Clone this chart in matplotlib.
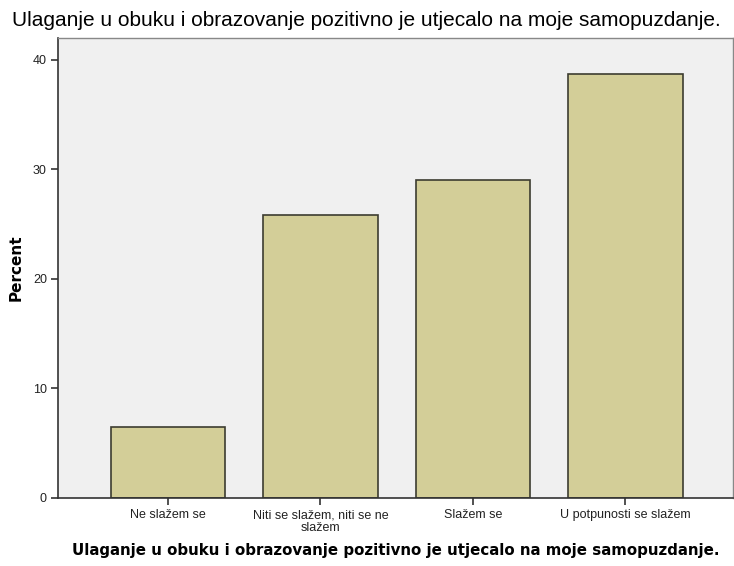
import matplotlib
matplotlib.use("Agg")
import matplotlib.pyplot as plt

categories = ["Ne slažem se", "Niti se slažem, niti se ne\nslažem", "Slažem se", "U potpunosti se slažem"]
percent = [6.45, 25.81, 29.03, 38.71]
yticks = [0, 10, 20, 30, 40]
title = "Ulaganje u obuku i obrazovanje pozitivno je utjecalo na moje samopuzdanje."

W, H = 734, 566
fig = plt.figure(figsize=(W / 100, H / 100), dpi=100)
fig.patch.set_facecolor("white")
left, right, top, bottom = 58, 733, 38, 498
ax = fig.add_axes([left / W, 1 - bottom / H, (right - left) / W, (bottom - top) / H])
ax.set_facecolor("#F0F0F0")

x = list(range(len(categories)))
ax.bar(x, percent, width=0.75, color="#D3CE98", edgecolor="#3C3C30", linewidth=1.2, zorder=2)

ax.set_xlim(-0.72, 3.705)
ax.set_ylim(0, 42.0)
ax.set_yticks(yticks)
ax.set_yticklabels([str(v) for v in yticks], fontsize=9, family="Liberation Sans", color="#222222")
ax.set_xticks(x)
ax.set_xticklabels(categories, fontsize=9, family="Liberation Sans", color="#222222", linespacing=1.05)
ax.tick_params(axis="both", direction="out", length=5, width=1.2, color="#333333", pad=3)

for s in ["left", "bottom"]:
    ax.spines[s].set_color("#333333")
    ax.spines[s].set_linewidth(1.2)
for s in ["top", "right"]:
    ax.spines[s].set_color("#888888")
    ax.spines[s].set_linewidth(1.0)

ax.set_ylabel("Percent", fontsize=11, fontweight="bold", family="DejaVu Sans", labelpad=7)
ax.set_xlabel(title, fontsize=10.8, fontweight="bold", family="DejaVu Sans", labelpad=7)

fig.text(366 / W, 1 - 26 / H, title, ha="center", va="baseline", fontsize=15, family="Liberation Sans", color="black")

fig.savefig("out.png", dpi=100)
